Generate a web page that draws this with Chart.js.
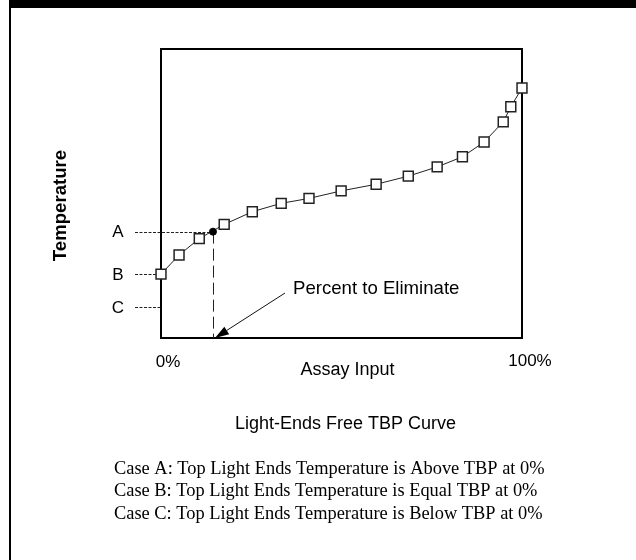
<!DOCTYPE html>
<html>
<head>
<meta charset="utf-8">
<script src="https://cdn.jsdelivr.net/npm/chart.js@4"></script>
<style>
  html, body { margin: 0; padding: 0; background: #fff; }
  #wrap { position: relative; width: 636px; height: 560px; overflow: hidden; }
  #frame { position: absolute; left: 9px; top: 0; width: 627px; height: 560px;
           border-top: 8px solid #000; border-left: 2px solid #000; box-sizing: border-box; }
  #c { position: absolute; left: 0; top: 0; }
</style>
</head>
<body>
<div id="wrap">
  <div id="frame"></div>
  <canvas id="c" width="636" height="560"></canvas>
</div>
<script>
// ---- data (x: percent of assay, y: relative temperature 0..100) ----
const assayPercent = [0, 5, 10.6, 17.5, 25.3, 33.3, 41, 49.9, 59.6, 68.5, 76.5, 83.5, 89.5, 94.8, 96.9, 100];
const tbpTemperature = [22.1, 28.7, 34.4, 39.3, 43.7, 46.6, 48.3, 50.9, 53.2, 56.0, 59.2, 62.7, 67.8, 74.8, 80.0, 86.5];
const eliminatePercent = 14.4;
const eliminateTemperature = 36.8;
const caseLetters = ['A', 'B', 'C'];
const caseLevels = [36.8, 22.0, 10.7];
const xTickValues = [0, 100];
const xTickLabels = ['0%', '100%'];
const xAxisTitle = 'Assay Input';
const yAxisTitle = 'Temperature';
const curveTitle = 'Light-Ends Free TBP Curve';
const arrowLabel = 'Percent to Eliminate';
const captionLines = [
  'Case A: Top Light Ends Temperature is Above TBP at 0%',
  'Case B: Top Light Ends Temperature is Equal TBP at 0%',
  'Case C: Top Light Ends Temperature is Below TBP at 0%'
];

const SANS = '"Liberation Sans", Arial, sans-serif';
const SERIF = '"Liberation Serif", "Times New Roman", serif';

const decorPlugin = {
  id: 'decor',
  beforeDatasetsDraw(chart) {
    const ctx = chart.ctx, a = chart.chartArea;
    const xs = chart.scales.x, ys = chart.scales.y;
    ctx.save();
    // plot box
    ctx.strokeStyle = '#000';
    ctx.lineWidth = 2;
    ctx.strokeRect(a.left, a.top, a.right - a.left, a.bottom - a.top);
    // case level dashed lines
    ctx.strokeStyle = '#222';
    ctx.lineWidth = 1;
    ctx.setLineDash([3, 1.5]);
    caseLevels.forEach((lv, i) => {
      const y = Math.round(ys.getPixelForValue(lv)) + 0.5;
      const xEnd = i === 0 ? xs.getPixelForValue(eliminatePercent) : a.left;
      ctx.beginPath();
      ctx.moveTo(a.left - 26, y);
      ctx.lineTo(xEnd, y);
      ctx.stroke();
    });
    // vertical dashed line at percent to eliminate
    ctx.setLineDash([12, 5]);
    const xe = Math.round(xs.getPixelForValue(eliminatePercent)) + 0.5;
    ctx.beginPath();
    ctx.moveTo(xe, ys.getPixelForValue(eliminateTemperature));
    ctx.lineTo(xe, a.bottom);
    ctx.stroke();
    ctx.setLineDash([]);
    ctx.restore();
  },
  afterDraw(chart) {
    const ctx = chart.ctx, a = chart.chartArea;
    const xs = chart.scales.x, ys = chart.scales.y;
    ctx.save();
    ctx.fillStyle = '#000';
    ctx.textBaseline = 'middle';
    // case letters
    ctx.font = '17px ' + SANS;
    ctx.textAlign = 'center';
    caseLetters.forEach((t, i) => {
      ctx.fillText(t, a.left - 43, ys.getPixelForValue(caseLevels[i]) + 1);
    });
    // x tick labels
    ctx.font = '17px ' + SANS;
    ctx.fillText(xTickLabels[0], xs.getPixelForValue(xTickValues[0]) + 7, a.bottom + 24);
    ctx.fillText(xTickLabels[1], xs.getPixelForValue(xTickValues[1]) + 8, a.bottom + 23);
    // x axis title
    ctx.font = '18px ' + SANS;
    ctx.fillText(xAxisTitle, (a.left + a.right) / 2 + 6, a.bottom + 32);
    // curve title
    ctx.fillText(curveTitle, (a.left + a.right) / 2 + 4, a.bottom + 86);
    // y axis title
    ctx.save();
    ctx.translate(61, (a.top + a.bottom) / 2 + 12);
    ctx.rotate(-Math.PI / 2);
    ctx.font = 'bold 18.6px ' + SANS;
    ctx.fillText(yAxisTitle, 0, 0);
    ctx.restore();
    // arrow label
    ctx.textAlign = 'left';
    ctx.font = '18.6px ' + SANS;
    ctx.fillText(arrowLabel, 293, a.bottom - 49);
    // arrow
    const tipX = xs.getPixelForValue(eliminatePercent) + 2, tipY = a.bottom;
    const sx = 285, sy = a.bottom - 45;
    const dx = tipX - sx, dy = tipY - sy, len = Math.hypot(dx, dy);
    const ux = dx / len, uy = dy / len;
    const hl = 14, hw = 4.5;
    const bx = tipX - ux * hl, by = tipY - uy * hl;
    ctx.strokeStyle = '#111';
    ctx.lineWidth = 1;
    ctx.beginPath();
    ctx.moveTo(sx, sy);
    ctx.lineTo(bx, by);
    ctx.stroke();
    ctx.beginPath();
    ctx.moveTo(tipX, tipY);
    ctx.lineTo(bx - uy * hw, by + ux * hw);
    ctx.lineTo(bx + uy * hw, by - ux * hw);
    ctx.closePath();
    ctx.fill();
    // captions
    ctx.font = '18.4px ' + SERIF;
    ctx.textAlign = 'left';
    captionLines.forEach((t, i) => {
      ctx.fillText(t, 114, 469 + i * 22.5);
    });
    ctx.restore();
  }
};

new Chart(document.getElementById('c'), {
  type: 'scatter',
  data: {
    datasets: [
      {
        label: 'Percent to Eliminate',
        data: [{ x: eliminatePercent, y: eliminateTemperature }],
        pointStyle: 'circle',
        pointRadius: 3.5,
        pointBackgroundColor: '#000',
        pointBorderColor: '#000',
        pointBorderWidth: 1,
        order: 0,
        clip: false
      },
      {
        label: 'TBP Curve',
        data: assayPercent.map((x, i) => ({ x: x, y: tbpTemperature[i] })),
        showLine: true,
        borderColor: '#222',
        borderWidth: 1,
        pointStyle: 'rect',
        pointRadius: 7,
        pointBackgroundColor: '#fff',
        pointBorderColor: '#222',
        pointBorderWidth: 1.5,
        order: 1,
        clip: false
      }
    ]
  },
  options: {
    responsive: false,
    animation: false,
    events: [],
    layout: { padding: { left: 161, right: 114, top: 49, bottom: 222 } },
    scales: {
      x: { type: 'linear', min: 0, max: 100, display: false },
      y: { type: 'linear', min: 0, max: 100, display: false }
    },
    plugins: { legend: { display: false }, tooltip: { enabled: false } }
  },
  plugins: [decorPlugin]
});
</script>
</body>
</html>
